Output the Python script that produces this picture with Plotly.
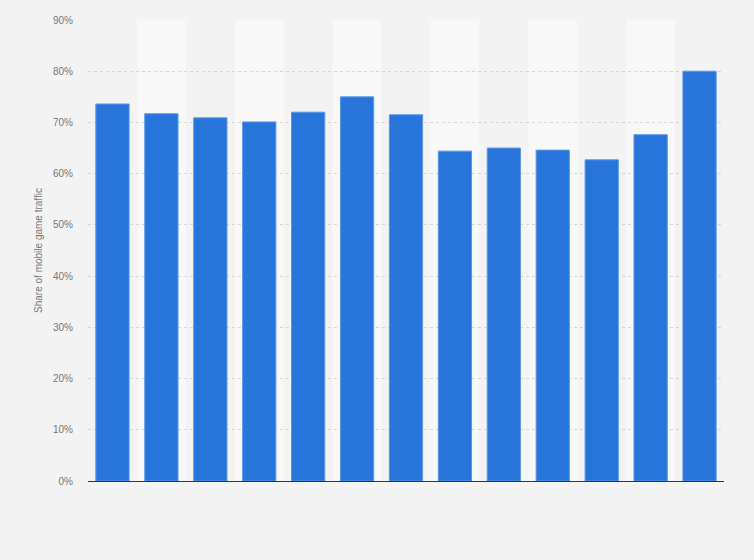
import plotly.graph_objects as go

# Share of mobile game traffic per period (labels not shown in the chart)
categories = [f"P{i}" for i in range(1, 14)]
share = [73.6, 71.7, 70.9, 70.1, 72.0, 75.0, 71.5, 64.4, 65.0, 64.6, 62.7, 67.6, 80.0]
y_ticks = list(range(0, 91, 10))
y_labels = [f"{t}%" for t in y_ticks]

BAR = "#2775DB"
BG = "#F3F3F3"
BAND = "#F8F8F8"
TEXT = "#777777"

fig = go.Figure(go.Bar(
    x=categories, y=share,
    marker=dict(color=BAR, line=dict(color="#5B97E8", width=1)),
    hovertemplate="%{y:.1f}%<extra></extra>",
))

# lighter alternating column bands behind every second bar
shapes = []
for i in range(1, len(categories), 2):
    shapes.append(dict(type="rect", xref="x", yref="paper",
                       x0=i - 0.5, x1=i + 0.5, y0=0, y1=1,
                       fillcolor=BAND, line_width=0, layer="below"))

fig.update_layout(
    width=754, height=560,
    paper_bgcolor=BG, plot_bgcolor=BG,
    margin=dict(l=88, r=30, t=20, b=79),
    bargap=0.32, showlegend=False, shapes=shapes,
    font=dict(family="Liberation Sans, Arial, sans-serif", size=10, color=TEXT),
)
fig.update_yaxes(
    range=[0, 90], tickvals=y_ticks, ticktext=y_labels,
    showgrid=True, gridcolor="#D6D6D6", griddash="dot", gridwidth=1,
    zeroline=False, ticklabelstandoff=14,
    title=dict(text="Share of mobile game traffic", font=dict(size=10, color=TEXT), standoff=8),
)
fig.update_xaxes(
    showticklabels=False, showgrid=False, ticks="",
    showline=True, linecolor="#333333", linewidth=1,
)

# drop the default page margin so the figure sits at the window's corner
fig.write_html("out.html", config={"displayModeBar": False},
               post_script="document.body.style.margin='0';")
